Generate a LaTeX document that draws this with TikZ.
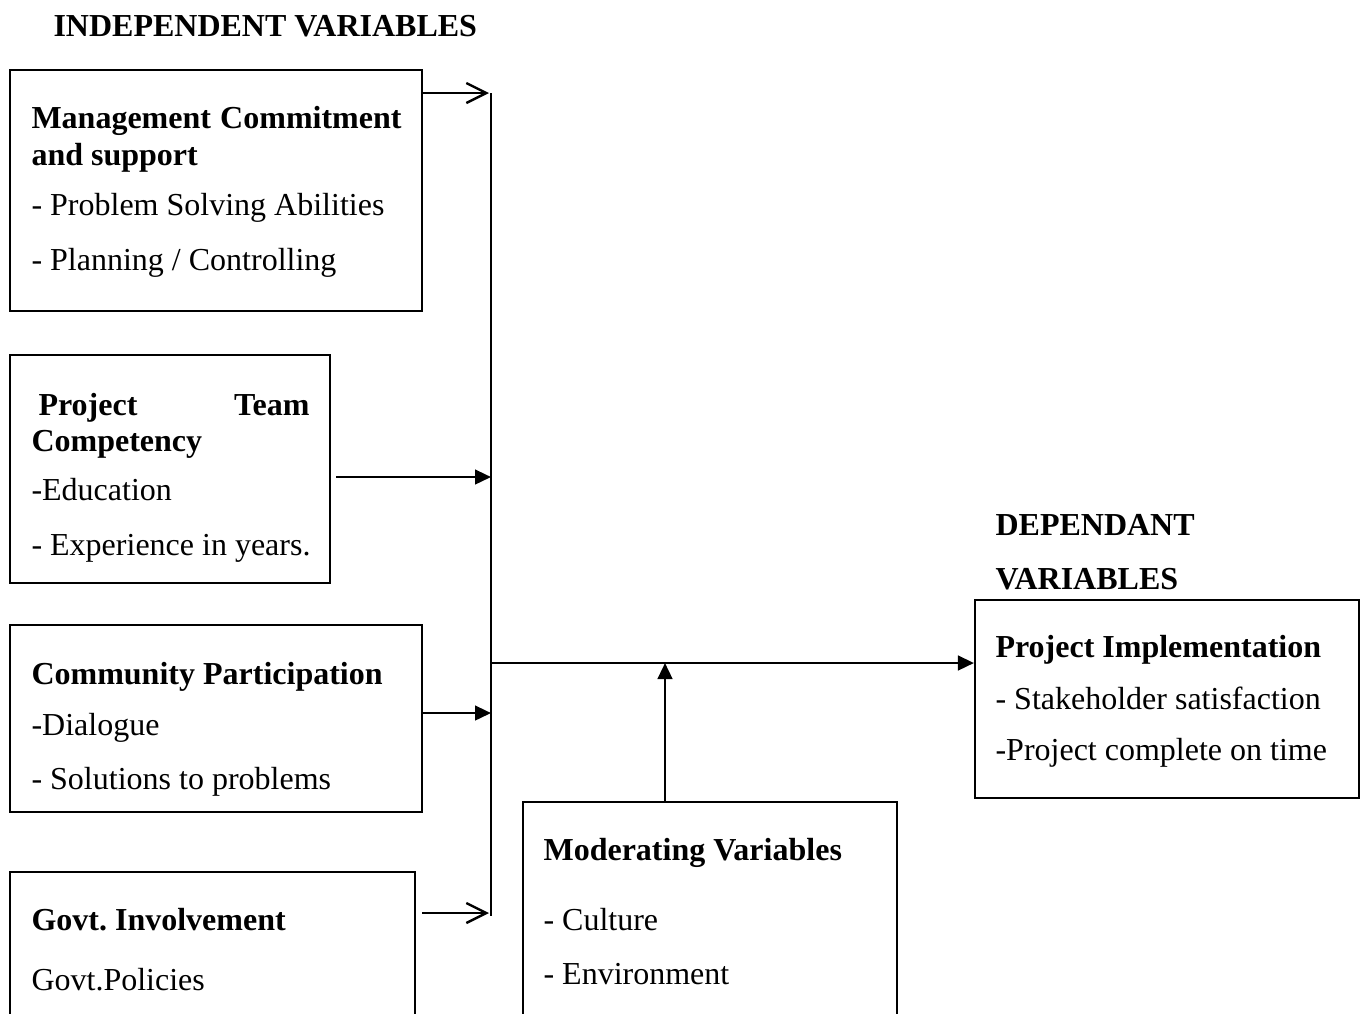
\documentclass[tikz,border=0pt]{standalone}
\usepackage{fontspec}
\setmainfont{Liberation Serif}
\usetikzlibrary{arrows.meta,fit,calc}
\frenchspacing
\begin{document}
\begin{tikzpicture}[x=0.375pt,y=-0.375pt,
  box/.style={draw, line width=0.8pt, rectangle, inner sep=0pt},
  txt/.style={anchor=base west, inner sep=0pt, yshift=-1.1pt, font=\fontsize{12}{14}\selectfont},
  head/.style={txt, font=\fontsize{12}{14}\selectfont\bfseries},
  link/.style={line width=0.9pt},
  tri/.style={link, -{Triangle[length=6pt,width=5.5pt]}},
  barb/.style={link, -{Straight Barb[length=7.5pt,width=7.5pt,line width=0.9pt]}}]
\useasboundingbox (0,0) rectangle (1360,1013);
\clip (0,0) rectangle (1360,1013);

% captions
\node[head] (indep) at (53,34) {INDEPENDENT VARIABLES};
\node[head] (dep1) at (995,533) {DEPENDANT};
\node[head] (dep2) at (995,587) {VARIABLES};

% boxes (the two lower ones run past the page edge)
\node[box, fit={(10,70) (422,311)}] (mgmt) {};
\node[box, fit={(10,355) (330,583)}] (team) {};
\node[box, fit={(10,625) (422,812)}] (comm) {};
\node[box, fit={(10,872) (415,1060)}] (govt) {};
\node[box, fit={(523,802) (897,1060)}] (moder) {};
\node[box, fit={(975,600) (1359,798)}] (impl) {};

% management commitment
\node[head] (m1) at (31,126) {\makebox[138.75pt][s]{Management Commitment}};
\node[head] (m2) at (31,163) {and support};
\node[txt] (m3) at (31,213) {- Problem Solving Abilities};
\node[txt] (m4) at (31,268) {- Planning / Controlling};

% project team
\node[head] (t1) at (38,413) {\makebox[101.6pt][s]{Project Team}};
\node[head] (t2) at (31,449) {Competency};
\node[txt] (t3) at (31,498) {-Education};
\node[txt] (t4) at (31,553) {- Experience in years.};

% community participation
\node[head] (c1) at (31,682) {Community Participation};
\node[txt] (c2) at (31,733) {-Dialogue};
\node[txt] (c3) at (31,787) {- Solutions to problems};

% government involvement
\node[head] (g1) at (31,928) {Govt. Involvement};
\node[txt] (g2) at (31,988) {Govt.Policies};

% moderating variables
\node[head] (v1) at (543,858) {Moderating Variables};
\node[txt] (v2) at (543,928) {- Culture};
\node[txt] (v3) at (543,982) {- Environment};

% project implementation
\node[head] (p1) at (995,655) {Project Implementation};
\node[txt] (p2) at (995,707) {- Stakeholder satisfaction};
\node[txt] (p3) at (995,758) {-Project complete on time};

% collecting bar and joints
\coordinate (bustop) at (491,93);
\coordinate (busbot) at (491,916);
\coordinate (jteam) at (491,477);
\coordinate (jcomm) at (491,713);
\coordinate (jgovt) at (489,913);
\coordinate (jmain) at (491,663);
\coordinate (jmod) at (665,663);

\draw[line width=0.8pt] (bustop) -- (busbot);
\draw[barb] (mgmt.east |- bustop) -- ($(bustop)+(-2,0)$);
\draw[tri] ($(team.east |- jteam)+(5,0)$) -- (jteam);
\draw[tri] (comm.east |- jcomm) -- (jcomm);
\draw[barb] ($(govt.east |- jgovt)+(6,0)$) -- (jgovt);
\draw[tri] (jmain) -- (impl.west |- jmain);
\draw[tri] (moder.north -| jmod) -- (jmod);
\end{tikzpicture}
\end{document}
